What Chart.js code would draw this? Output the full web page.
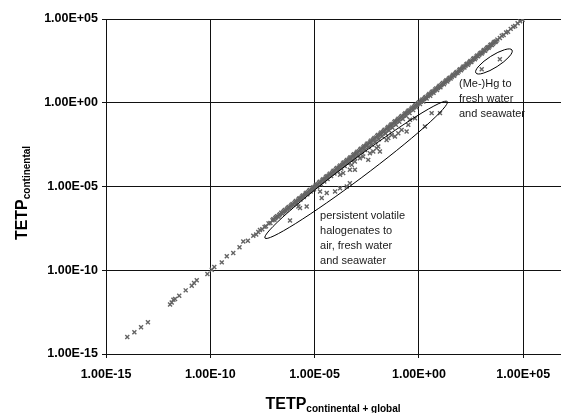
<!DOCTYPE html>
<html>
<head>
<meta charset="utf-8">
<script src="https://cdn.jsdelivr.net/npm/chart.js@4.4.1/dist/chart.umd.min.js"></script>
<style>
  html, body { margin: 0; padding: 0; background: #fff; }
  #chart { display: block; }
</style>
</head>
<body>
<canvas id="chart" width="561" height="413"></canvas>
<script>
// TETP continental vs continental + global, both as log10 exponents

// substances on the 1:1 line
const lineLogX = [
  -13.98, -13.64, -13.32, -12.99, -11.93, -11.85, -11.77, -11.69, -11.49, -11.18,
  -10.89, -10.78, -10.65, -10.14, -9.93, -9.81, -9.45, -9.21, -8.90, -8.60,
  -8.42, -8.20, -7.94, -7.80, -7.70,
  -7.62, -7.51, -7.40, -7.33, -7.21, -7.12, -7.02, -6.93, -6.85, -6.74,
  -6.66, -6.55, -6.47, -6.38, -6.29, -6.20, -6.11, -6.02, -5.93, -5.85,
  -5.76, -5.68, -5.60, -5.52, -5.43, -5.35, -5.27, -5.19, -5.10, -5.03,
  -4.95, -4.87, -4.79, -4.70, -4.62, -4.54, -4.46, -4.38, -4.30, -4.21,
  -4.13, -4.05, -3.97, -3.89, -3.81, -3.72, -3.64, -3.56, -3.48, -3.40,
  -3.32, -3.23, -3.15, -3.07, -2.99, -2.91, -2.82, -2.74, -2.66, -2.58,
  -2.50, -2.41, -2.33, -2.25, -2.17, -2.09, -2.00, -1.92, -1.84, -1.76,
  -1.68, -1.59, -1.51, -1.43, -1.35, -1.27, -1.18, -1.10, -1.02, -0.94,
  -0.86, -0.77, -0.69, -0.61, -0.53, -0.45, -0.36, -0.28, -0.20, -0.12,
  -0.04, 0.05, 0.13, 0.21, 0.29, 0.37, 0.46, 0.54, 0.62, 0.70,
  0.78, 0.87, 0.95, 1.03, 1.11, 1.20, 1.28, 1.36, 1.44, 1.52,
  1.61, 1.69, 1.77, 1.85, 1.94, 2.02, 2.10, 2.18, 2.27, 2.35,
  2.43, 2.51, 2.60, 2.68, 2.76, 2.84, 2.93, 3.01, 3.09, 3.17,
  3.26, 3.34, 3.42, 3.50, 3.59, 3.67, 3.76, 3.88, 3.97, 4.06,
  4.18, 4.27, 4.40, 4.52, 4.61, 4.73, 4.85, 4.97
];
const lineLogY = [
  -13.99, -13.70, -13.40, -13.10, -12.05, -11.92, -11.76, -11.72, -11.52, -11.20,
  -10.92, -10.76, -10.60, -10.22, -9.97, -9.81, -9.53, -9.17, -8.97, -8.63,
  -8.28, -8.24, -7.94, -7.86, -7.72,
  -7.60, -7.55, -7.41, -7.38, -7.20, -7.18, -7.01, -6.99, -6.84, -6.80,
  -6.65, -6.61, -6.46, -6.45, -6.28, -6.27, -6.10, -6.09, -5.92, -5.95,
  -5.75, -5.78, -5.59, -5.63, -5.42, -5.47, -5.26, -5.30, -5.09, -5.16,
  -4.94, -5.02, -4.78, -4.86, -4.61, -4.70, -4.45, -4.55, -4.29, -4.38,
  -4.12, -4.23, -3.96, -4.08, -3.80, -3.93, -3.63, -3.78, -3.47, -3.62,
  -3.31, -3.45, -3.14, -3.30, -2.98, -3.15, -2.81, -2.97, -2.65, -2.82,
  -2.49, -2.66, -2.32, -2.50, -2.16, -2.34, -1.99, -2.18, -1.83, -2.00,
  -1.67, -1.84, -1.50, -1.66, -1.34, -1.49, -1.17, -1.32, -1.01, -1.14,
  -0.85, -0.97, -0.68, -0.79, -0.52, -0.62, -0.35, -0.44, -0.19, -0.27,
  -0.03, -0.08, 0.14, 0.08, 0.30, 0.25, 0.47, 0.42, 0.63, 0.59,
  0.79, 0.76, 0.96, 0.93, 1.12, 1.10, 1.29, 1.27, 1.45, 1.44,
  1.62, 1.61, 1.78, 1.77, 1.95, 1.94, 2.11, 2.10, 2.28, 2.27,
  2.44, 2.43, 2.61, 2.60, 2.77, 2.77, 2.94, 2.94, 3.10, 3.11,
  3.27, 3.28, 3.43, 3.45, 3.60, 3.62, 3.77, 3.86, 4.00, 4.04,
  4.19, 4.24, 4.41, 4.53, 4.58, 4.75, 4.86, 4.95
];

// more substances in the crowded middle of the 1:1 line
const denseLogX = [
  -6.98, -6.89, -6.80, -6.70, -6.60, -6.51, -6.42, -6.33, -6.24, -6.15,
  -6.06, -5.97, -5.89, -5.80, -5.72, -5.64, -5.56, -5.47, -5.39, -5.31,
  -5.23, -5.14, -5.06, -4.99, -4.91, -4.83, -4.75, -4.66, -4.58, -4.50,
  -4.42, -4.34, -4.26, -4.17, -4.09, -4.01, -3.93, -3.85, -3.77, -3.68,
  -3.60, -3.52, -3.44, -3.36, -3.28, -3.19, -3.11, -3.03, -2.95, -2.87,
  -2.78, -2.70, -2.62, -2.54, -2.46, -2.37, -2.29, -2.21, -2.13, -2.05,
  -1.96, -1.88, -1.80, -1.72, -1.64, -1.55, -1.47, -1.39, -1.31, -1.23,
  -1.14, -1.06, -0.98, -0.90, -0.82, -0.73, -0.65, -0.57, -0.49, -0.41,
  -0.32, -0.24, -0.16, -0.08, 0.01, 0.09, 0.17, 0.25, 0.33, 0.42,
  0.50, 0.58, 0.66, 0.74, 0.83, 0.91, 0.99, 1.07, 1.16, 1.24,
  1.32, 1.40, 1.48, 1.57, 1.65, 1.73, 1.81, 1.90, 1.98, 2.06,
  2.14, 2.23, 2.31, 2.39, 2.47, 2.56, 2.64, 2.72, 2.80, 2.89,
  2.97, 3.05, 3.13, 3.22, 3.30, 3.38, 3.46, 3.55, 3.63, 3.71
];
const denseLogY = [
  -6.95, -6.90, -6.78, -6.72, -6.57, -6.53, -6.40, -6.36, -6.22, -6.18,
  -6.04, -6.00, -5.86, -5.83, -5.70, -5.67, -5.53, -5.50, -5.37, -5.34,
  -5.20, -5.18, -5.04, -5.02, -4.88, -4.86, -4.72, -4.70, -4.56, -4.53,
  -4.39, -4.37, -4.23, -4.21, -4.06, -4.04, -3.90, -3.88, -3.74, -3.72,
  -3.57, -3.55, -3.41, -3.39, -3.25, -3.23, -3.08, -3.06, -2.92, -2.90,
  -2.75, -2.73, -2.59, -2.57, -2.43, -2.41, -2.26, -2.24, -2.10, -2.08,
  -1.93, -1.91, -1.77, -1.75, -1.61, -1.59, -1.44, -1.42, -1.28, -1.26,
  -1.11, -1.09, -0.95, -0.93, -0.79, -0.77, -0.62, -0.60, -0.46, -0.44,
  -0.29, -0.27, -0.13, -0.11, 0.03, 0.06, 0.19, 0.22, 0.35, 0.39,
  0.52, 0.55, 0.68, 0.71, 0.85, 0.88, 1.01, 1.04, 1.18, 1.21,
  1.34, 1.37, 1.50, 1.54, 1.67, 1.70, 1.83, 1.87, 2.00, 2.03,
  2.16, 2.20, 2.33, 2.36, 2.49, 2.53, 2.66, 2.69, 2.82, 2.86,
  2.99, 3.02, 3.15, 3.19, 3.32, 3.35, 3.48, 3.52, 3.65, 3.68
];

// persistent volatile halogenates below the line
const haloLogX = [
  -6.18, -5.78, -5.38, -5.70, -4.74, -4.66, -4.42, -4.02, -3.78, -3.46,
  -3.31, -3.78, -3.63, -3.31, -3.07, -3.22, -3.07, -2.83, -2.67, -2.43,
  -2.35, -2.19, -2.03, -1.95, -1.87, -1.55, -1.47, -1.31, -1.15, -0.99,
  -0.83, -0.59, -0.51, -0.43, -0.19, 0.29, 0.61, 1.01
];
const haloLogY = [
  -7.03, -6.19, -6.19, -6.29, -5.30, -5.69, -5.39, -5.30, -5.10, -5.00,
  -4.80, -4.30, -4.20, -4.00, -4.00, -3.71, -3.51, -3.31, -3.21, -3.41,
  -3.01, -2.91, -2.71, -2.61, -2.91, -2.22, -2.11, -1.92, -2.02, -1.82,
  -1.62, -1.72, -1.32, -1.02, -0.92, -1.42, -0.62, -0.62
];

// (Me-)Hg
const hgLogX = [3.01, 3.88];
const hgLogY = [2.00, 2.60];

const tickValues = [1e-15, 1e-10, 1e-5, 1e0, 1e5];
const tickLabels = ['1.00E-15', '1.00E-10', '1.00E-05', '1.00E+00', '1.00E+05'];

// ellipse ends (log10 x, log10 y) and half width in px
const ellipses = [
  { from: [-7.38, -8.08], to: [1.36, 0.07], half: 9.5 },
  { from: [2.73, 1.78], to: [4.46, 3.15], half: 6 }
];
const notes = [
  { at: [-4.74, -6.75], lines: ['persistent volatile', 'halogenates to', 'air, fresh water', 'and seawater'] },
  { at: [1.92, 1.12], lines: ['(Me-)Hg to', 'fresh water', 'and seawater'] }
];

const toPoints = (lx, ly) => lx.map((v, i) => ({ x: 10 ** v, y: 10 ** ly[i] }));

const markerColor = '#646464';
const axisColor = '#111';
const tickFont = { family: "'Liberation Sans', Arial, sans-serif", size: 12.5, weight: 'bold' };

// ellipses, notes and axis titles with subscripts
const extras = {
  id: 'extras',
  afterDatasetsDraw(chart) {
    const { ctx, scales: { x, y } } = chart;
    ctx.save();
    ctx.strokeStyle = '#000';
    ctx.lineWidth = 1;
    ellipses.forEach(e => {
      const x1 = x.getPixelForValue(10 ** e.from[0]), y1 = y.getPixelForValue(10 ** e.from[1]);
      const x2 = x.getPixelForValue(10 ** e.to[0]), y2 = y.getPixelForValue(10 ** e.to[1]);
      ctx.beginPath();
      ctx.ellipse((x1 + x2) / 2, (y1 + y2) / 2, Math.hypot(x2 - x1, y2 - y1) / 2, e.half,
        Math.atan2(y2 - y1, x2 - x1), 0, Math.PI * 2);
      ctx.stroke();
    });

    ctx.fillStyle = '#1a1a1a';
    ctx.font = "11px 'Liberation Sans', Arial, sans-serif";
    ctx.textBaseline = 'middle';
    ctx.textAlign = 'left';
    notes.forEach(n => {
      const px = x.getPixelForValue(10 ** n.at[0]);
      const py = y.getPixelForValue(10 ** n.at[1]);
      n.lines.forEach((t, i) => ctx.fillText(t, px, py + i * 15));
    });

    // titles
    ctx.fillStyle = '#000';
    ctx.textBaseline = 'alphabetic';
    const big = "bold 16px 'Liberation Sans', Arial, sans-serif";
    const small = "bold 10px 'Liberation Sans', Arial, sans-serif";
    const drawTitle = (main, sub) => {
      ctx.font = big;
      const w1 = ctx.measureText(main).width;
      ctx.font = small;
      const w2 = ctx.measureText(sub).width;
      const start = -(w1 + w2) / 2;
      ctx.font = big;
      ctx.fillText(main, start, 0);
      ctx.font = small;
      ctx.fillText(sub, start + w1, 3);
    };
    ctx.save();
    ctx.translate(333, 409);
    drawTitle('TETP', 'continental + global');
    ctx.restore();
    ctx.save();
    ctx.translate(27, 193);
    ctx.rotate(-Math.PI / 2);
    drawTitle('TETP', 'continental');
    ctx.restore();
    ctx.restore();
  }
};

const axisOpts = (extra) => Object.assign({
  type: 'logarithmic',
  afterBuildTicks: s => { s.ticks = tickValues.map(v => ({ value: v })); },
  grid: { color: axisColor, lineWidth: 1, drawTicks: true, tickLength: 4, tickColor: axisColor },
  border: { color: axisColor, width: 1 }
}, extra);

new Chart(document.getElementById('chart'), {
  type: 'scatter',
  data: {
    datasets: [
      { data: toPoints(lineLogX, lineLogY) },
      { data: toPoints(denseLogX, denseLogY) },
      { data: toPoints(haloLogX, haloLogY) },
      { data: toPoints(hgLogX, hgLogY) }
    ]
  },
  options: {
    responsive: false,
    animation: false,
    devicePixelRatio: 1,
    layout: { autoPadding: false, padding: { top: 19, right: 0, bottom: 0, left: 0 } },
    elements: {
      point: { pointStyle: 'crossRot', radius: 2.8, borderWidth: 1.4, borderColor: markerColor, backgroundColor: markerColor }
    },
    plugins: { legend: { display: false }, tooltip: { enabled: false } },
    scales: {
      x: axisOpts({
        position: 'bottom', min: 1e-15, max: 10 ** 6.81,
        ticks: { font: tickFont, color: '#000', autoSkip: false, maxRotation: 0, padding: 9,
          callback: (v, i) => tickLabels[i] },
        afterFit: s => { s.height = 59; s.paddingLeft = 0; s.paddingRight = 0; }
      }),
      y: axisOpts({
        position: 'left', min: 1e-15, max: 1e5,
        ticks: { font: tickFont, color: '#000', autoSkip: false, padding: 4,
          callback: (v, i) => tickLabels[i] },
        afterFit: s => { s.width = 106; s.paddingTop = 0; s.paddingBottom = 0; }
      })
    }
  },
  plugins: [extras]
});
</script>
</body>
</html>
